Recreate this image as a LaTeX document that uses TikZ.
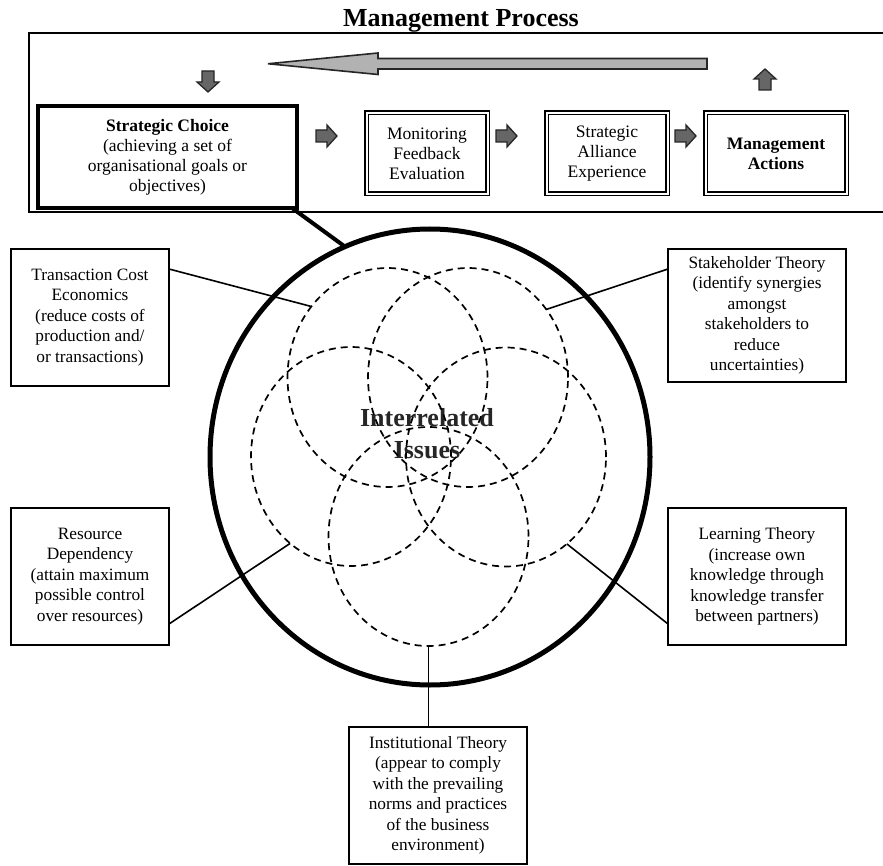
\documentclass[tikz,border=0pt]{standalone}
\usepackage{fontspec}
\setmainfont{Liberation Serif}
\usetikzlibrary{shapes.geometric,calc}
\begin{document}
\begin{tikzpicture}[x=1pt,y=-1pt,
  every node/.style={inner sep=0pt, outer sep=0pt},
  txt/.style={font=\fontsize{17.3}{20.5}\selectfont, align=center},
  thbox/.style={txt, draw, line width=1.8pt},
  scbox/.style={draw, line width=4pt, align=center, font=\fontsize{17.5}{20}\selectfont},
  dbox/.style={draw, double, line width=1.5pt, double distance=2pt, minimum height=81pt, align=center, font=\fontsize{17.5}{20}\selectfont},
  sarrow/.style={fill=black!60, draw=black!85, line width=1.3pt, line join=miter},
  bigarrow/.style={fill=black!30, draw=black!85, line width=1.6pt, line join=miter},
  dashell/.style={draw, ellipse, line width=1.7pt, dash pattern=on 7pt off 5pt, minimum width=200pt, minimum height=219pt},
  conn/.style={line width=1.6pt},
  rarr/.pic={\draw[sarrow] (0,-6) -- (11,-6) -- (11,-11) -- (21,0) -- (11,11) -- (11,6) -- (0,6) -- cycle;}
]
\useasboundingbox (0,0) rectangle (883,866);

% title and frame
\node[font=\fontsize{26}{30}\selectfont\bfseries, anchor=base] (title) at (461,27) {Management Process};
\draw[line width=1.8pt] (884,33) -- (29,33) -- (29,212) -- (884,212);

% big feedback arrow
\draw[bigarrow] (707,58.5) -- (378,58.5) -- (378,53) -- (268,63.75) -- (378,74.5) -- (378,69) -- (707,69) -- cycle;
\pic[rotate=-90] at (208,71) {rarr};
\pic[rotate=90] at (765,90) {rarr};

% process boxes
\node[scbox, minimum width=259pt, minimum height=102pt] (sc) at (167.5,157)
  {\textbf{Strategic Choice}\\(achieving a set of\\organisational goals or\\objectives)};
\node[dbox, minimum width=121pt] (mon) at (427,153.5) {Monitoring\\Feedback\\Evaluation};
\node[dbox, minimum width=121pt] (sal) at (607,153.5) {Strategic\\Alliance\\Experience};
\node[dbox, minimum width=141pt] (mac) at (776,153.5) {\textbf{Management}\\\textbf{Actions}};
\pic at (316,136) {rarr};
\pic at (496,136) {rarr};
\pic at (675,136) {rarr};

% big circle
\node[draw, ellipse, line width=5pt, minimum width=440pt, minimum height=456pt] (circ) at (430,457) {};
\draw[line width=4pt] ($(sc.south east)+(-5,0)$) -- (circ.112);

% central text
\node[font=\fontsize{26}{32}\selectfont\bfseries, text=black!85, align=center] (ii) at (427,434) {Interrelated\\Issues};

% dashed ellipses
\node[dashell] (e1) at (387.5,377.5) {};
\node[dashell] (e2) at (468,377.5) {};
\node[dashell] (e3) at (351,456.5) {};
\node[dashell] (e4) at (506,457) {};
\node[dashell] (e5) at (428.5,536.5) {};

% theory boxes
\node[thbox, minimum width=158pt, minimum height=137pt] (tce) at (90,317.5)
  {Transaction Cost\\Economics\\(reduce costs of\\production and/\\or transactions)};
\node[thbox, minimum width=178pt, minimum height=133pt] (sth) at (757,315.5)
  {Stakeholder Theory\\(identify synergies\\amongst\\stakeholders to\\reduce\\uncertainties)};
\node[thbox, minimum width=158pt, minimum height=137pt] (res) at (90,576.5)
  {Resource\\Dependency\\(attain maximum\\possible control\\over resources)};
\node[thbox, minimum width=178pt, minimum height=137pt] (lrn) at (757,576.5)
  {Learning Theory\\(increase own\\knowledge through\\knowledge transfer\\between partners)};
\node[thbox, minimum width=178pt, minimum height=137pt] (inst) at (438,795.5)
  {Institutional Theory\\(appear to comply\\with the prevailing\\norms and practices\\of the business\\environment)};

% connectors
\draw[conn] ($(tce.north east)+(0,20)$) -- (e1.137.7);
\draw[conn] ($(sth.north west)+(0,20)$) -- (e2.41.3);
\draw[conn] ($(res.south east)+(0,-21)$) -- (e3.235.3);
\draw[conn] ($(lrn.south west)+(0,-21)$) -- (e4.305.9);
\draw[conn] (e5.south) -- (e5.south |- inst.north);
\end{tikzpicture}
\end{document}
